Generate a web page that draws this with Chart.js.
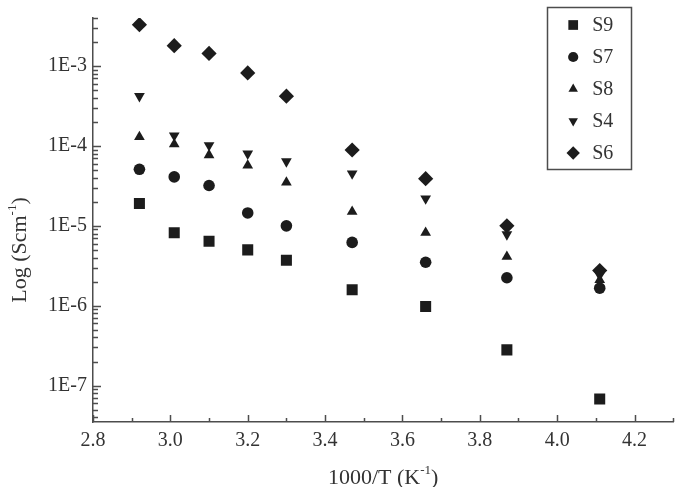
<!DOCTYPE html>
<html>
<head>
<meta charset="utf-8">
<script src="https://cdn.jsdelivr.net/npm/chart.js@4.4.1/dist/chart.umd.min.js"></script>
<style>
  html, body { margin: 0; padding: 0; background: #fff; }
  #wrap { width: 681px; height: 487px; }
</style>
</head>
<body>
<div id="wrap"><canvas id="conductivityChart" width="681" height="487"></canvas></div>
<script>
// 1000/T values (K^-1) shared by all samples
const invTemp = [2.92, 3.01, 3.10, 3.20, 3.30, 3.47, 3.66, 3.87, 4.11];

// conductivity (S/cm) per sample
const s9 = [1.9e-5, 8.2e-6, 6.4e-6, 5.0e-6, 3.7e-6, 1.58e-6, 9.8e-7, 2.8e-7, 6.8e-8];
const s7 = [5.1e-5, 4.1e-5, 3.2e-5, 1.45e-5, 1.0e-5, 6.2e-6, 3.5e-6, 2.24e-6, 1.66e-6];
const s8 = [1.3e-4, 1.05e-4, 7.7e-5, 5.7e-5, 3.5e-5, 1.5e-5, 8.2e-6, 4.1e-6, 2.1e-6];
const s4 = [4.2e-4, 1.35e-4, 1.02e-4, 8.0e-5, 6.4e-5, 4.5e-5, 2.2e-5, 7.8e-6, 2.4e-6];
const s6 = [3.3e-3, 1.8e-3, 1.44e-3, 8.2e-4, 4.2e-4, 8.9e-5, 3.9e-5, 1.0e-5, 2.75e-6];

const xTicks = [2.8, 3.0, 3.2, 3.4, 3.6, 3.8, 4.0, 4.2];
const yTicks = [1e-7, 1e-6, 1e-5, 1e-4, 1e-3];

const serif = "'Liberation Serif', 'Times New Roman', serif";
const markColor = '#1c1c1c';
const textColor = '#333';
const axisColor = '#4d4d4d';

const toPoints = vals => vals.map((v, i) => ({ x: invTemp[i], y: v }));

const series = [
    { label: 'S9', values: s9, style: 'rect', radius: 7.8 },
    { label: 'S7', values: s7, style: 'circle', radius: 5.8 },
    { label: 'S8', values: s8, style: 'triangle', radius: 6.2 },
    { label: 'S4', values: s4, style: 'triangle', radius: 6.2, rotation: 180 },
    { label: 'S6', values: s6, style: 'rectRot', radius: 7.6 }
];

// ticks pointing into the plot, with minor ticks
const inwardTicks = {
    id: 'inwardTicks',
    afterDraw(chart) {
        const { ctx, chartArea: a, scales: { x, y } } = chart;
        ctx.save();
        ctx.strokeStyle = axisColor;
        ctx.lineWidth = 1.5;
        ctx.beginPath();
        for (let i = 0; i <= 15; i++) {
            const v = 2.8 + i * 0.1;
            const px = Math.round(x.getPixelForValue(v)) + 0.5;
            ctx.moveTo(px, a.bottom);
            ctx.lineTo(px, a.bottom - (i % 2 === 0 ? 7 : 4));
        }
        for (let d = -8; d <= -3; d++) {
            for (let m = 1; m <= 9; m++) {
                const v = m * Math.pow(10, d);
                if (v < y.min || v > y.max) continue;
                const py = Math.round(y.getPixelForValue(v)) + 0.5;
                ctx.moveTo(a.left, py);
                ctx.lineTo(a.left + (m === 1 ? 8 : 5), py);
            }
        }
        ctx.stroke();
        ctx.restore();
    }
};

// axis titles with superscripts
function drawSup(ctx, main, sup, tail, size) {
    ctx.font = size + 'px ' + serif;
    const w1 = ctx.measureText(main).width;
    const w3 = ctx.measureText(tail).width;
    ctx.font = Math.round(size * 0.6) + 'px ' + serif;
    const w2 = ctx.measureText(sup).width;
    const total = w1 + w2 + w3;
    let cx = -total / 2;
    ctx.textAlign = 'left';
    ctx.textBaseline = 'alphabetic';
    ctx.font = size + 'px ' + serif;
    ctx.fillText(main, cx, 0);
    cx += w1;
    ctx.font = Math.round(size * 0.6) + 'px ' + serif;
    ctx.fillText(sup, cx, -size * 0.45);
    cx += w2;
    ctx.font = size + 'px ' + serif;
    ctx.fillText(tail, cx, 0);
}

const axisTitles = {
    id: 'axisTitles',
    afterDraw(chart) {
        const { ctx, chartArea: a } = chart;
        ctx.save();
        ctx.fillStyle = textColor;
        ctx.translate((a.left + a.right) / 2, chart.height - 3);
        drawSup(ctx, '1000/T (K', '-1', ')', 22);
        ctx.restore();

        ctx.save();
        ctx.fillStyle = textColor;
        ctx.translate(26, 250);
        ctx.rotate(-Math.PI / 2);
        drawSup(ctx, 'Log (Scm', '-1', ')', 22);
        ctx.restore();
    }
};

// boxed legend inside the plot, top right
const boxLegend = {
    id: 'boxLegend',
    afterDraw(chart) {
        const { ctx, chartArea: a } = chart;
        const left = a.right - 126, top = 7.5, w = 84, h = 162;
        ctx.save();
        ctx.strokeStyle = axisColor;
        ctx.lineWidth = 1.5;
        ctx.strokeRect(Math.round(left) + 0.5, top, w, h);
        chart.data.datasets.forEach((ds, i) => {
            const cy = top + 17.5 + i * 32;
            ctx.fillStyle = markColor;
            Chart.helpers.drawPoint(ctx, {
                pointStyle: ds.pointStyle,
                radius: ds.pointRadius * 0.88,
                rotation: ds.pointRotation || 0,
                borderWidth: 0
            }, left + 26, cy);
            ctx.fillStyle = textColor;
            ctx.font = '20px ' + serif;
            ctx.textAlign = 'left';
            ctx.textBaseline = 'middle';
            ctx.fillText(ds.label, left + 45, cy + 1);
        });
        ctx.restore();
    }
};

new Chart(document.getElementById('conductivityChart'), {
    type: 'scatter',
    data: {
        datasets: series.map(s => ({
            label: s.label,
            data: toPoints(s.values),
            pointStyle: s.style,
            pointRadius: s.radius,
            pointHoverRadius: s.radius,
            pointRotation: s.rotation || 0,
            pointBackgroundColor: markColor,
            pointBorderWidth: 0,
            showLine: false
        }))
    },
    options: {
        responsive: false,
        animation: false,
        events: [],
        layout: { padding: { top: 8, right: 2, left: 0, bottom: 0 } },
        plugins: {
            legend: { display: false },
            tooltip: { enabled: false }
        },
        scales: {
            x: {
                type: 'linear',
                min: 2.8,
                max: 4.3,
                afterBuildTicks: scale => { scale.ticks = xTicks.map(v => ({ value: v })); },
                afterFit: scale => { scale.height = 65; },
                grid: { display: false, drawTicks: false },
                border: { display: true, color: axisColor, width: 1.5 },
                ticks: {
                    padding: 7,
                    color: textColor,
                    font: { family: serif, size: 20 },
                    callback: v => Number(v).toFixed(1)
                }
            },
            y: {
                type: 'logarithmic',
                min: 3.5e-8,
                max: 4e-3,
                afterBuildTicks: scale => { scale.ticks = yTicks.map(v => ({ value: v })); },
                afterFit: scale => { scale.width = 93; },
                grid: { display: false, drawTicks: false },
                border: { display: true, color: axisColor, width: 1.5 },
                ticks: {
                    padding: 6,
                    color: textColor,
                    font: { family: serif, size: 20 },
                    callback: v => '1E' + Math.round(Math.log10(v))
                }
            }
        }
    },
    plugins: [inwardTicks, axisTitles, boxLegend]
});
</script>
</body>
</html>
